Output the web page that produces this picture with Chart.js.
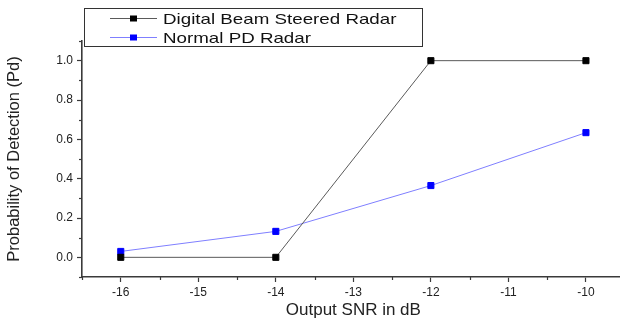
<!DOCTYPE html>
<html>
<head>
<meta charset="utf-8">
<script src="https://cdn.jsdelivr.net/npm/chart.js@4.4.0/dist/chart.umd.min.js"></script>
<style>
  html, body { margin: 0; padding: 0; background: #fff; overflow: hidden; }
  #wrap { position: relative; width: 630px; height: 323px; }
</style>
</head>
<body>
<div id="wrap"><canvas id="snrChart"></canvas></div>
<script>
// values
const snrValues = [-16, -14, -12, -10];
const beamSteered = [0.0, 0.0, 1.0, 1.0];
const normalPd = [0.03, 0.132, 0.365, 0.634];
const seriesNames = ["Digital Beam Steered Radar", "Normal PD Radar"];
const xTickLabels = ["-16", "-15", "-14", "-13", "-12", "-11", "-10"];
const yTickLabels = ["0.0", "0.2", "0.4", "0.6", "0.8", "1.0"];

const fontName = "'Liberation Sans', Arial, sans-serif";
const axisColor = "#3a3a3a";

// minor ticks + boxed legend like the origin plot
const extrasPlugin = {
    id: "extras",
    afterDraw(chart) {
        const ctx = chart.ctx;
        const xs = chart.scales.x;
        const ys = chart.scales.y;
        ctx.save();
        ctx.strokeStyle = axisColor;
        ctx.lineWidth = 1.2;
        for (let v = -16.5; v <= -9.5; v += 1) {
            const px = Math.round(xs.getPixelForValue(v)) + 0.5;
            ctx.beginPath();
            ctx.moveTo(px, xs.top);
            ctx.lineTo(px, xs.top + 3);
            ctx.stroke();
        }
        for (let v = -0.1; v <= 1.11; v += 0.2) {
            const py = Math.round(ys.getPixelForValue(v)) + 0.5;
            ctx.beginPath();
            ctx.moveTo(ys.right, py);
            ctx.lineTo(ys.right - 3, py);
            ctx.stroke();
        }

        // legend box
        ctx.fillStyle = "#fff";
        ctx.fillRect(84, 8, 338, 38);
        ctx.strokeStyle = "#333";
        ctx.lineWidth = 1;
        ctx.strokeRect(84.5, 8.5, 338, 38);
        ctx.font = "15px " + fontName;
        ctx.textBaseline = "middle";
        chart.data.datasets.forEach(function (ds, i) {
            const y = 18.5 + i * 19;
            ctx.strokeStyle = ds.borderColor;
            ctx.lineWidth = 1;
            ctx.beginPath();
            ctx.moveTo(110, y);
            ctx.lineTo(157, y);
            ctx.stroke();
            ctx.fillStyle = ds.pointBackgroundColor;
            ctx.fillRect(130, y - 3, 7, 6);
            ctx.fillStyle = "#111";
            // the original text is a bit stretched sideways
            ctx.save();
            ctx.translate(163, y + 1);
            ctx.scale(1.25, 1);
            ctx.fillText(ds.label, 0, 0);
            ctx.restore();
        });
        ctx.restore();
    }
};

const ctx = document.getElementById("snrChart").getContext("2d");
const snrChart = new Chart(ctx, {
    type: "line",
    data: {
        datasets: [{
            label: seriesNames[0],
            data: snrValues.map(function (x, i) { return { x: x, y: beamSteered[i] }; }),
            borderColor: "#5a5a5a",
            borderWidth: 1,
            pointStyle: "rect",
            pointRadius: 4.3,
            pointBorderWidth: 1,
            pointBackgroundColor: "#000",
            pointBorderColor: "#000",
            tension: 0
        }, {
            label: seriesNames[1],
            data: snrValues.map(function (x, i) { return { x: x, y: normalPd[i] }; }),
            borderColor: "#7f7fff",
            borderWidth: 1,
            pointStyle: "rect",
            pointRadius: 4.3,
            pointBorderWidth: 1,
            pointBackgroundColor: "#0000ff",
            pointBorderColor: "#0000ff",
            tension: 0
        }]
    },
    options: {
        responsive: true,
        maintainAspectRatio: false,
        animation: false,
        layout: { padding: { top: 41, left: 0, right: 0, bottom: 0 } },
        plugins: {
            legend: { display: false },
            tooltip: { enabled: false }
        },
        scales: {
            x: {
                type: "linear",
                min: -16.5,
                max: -9.5,
                afterFit: function (scale) { scale.height = 46; },
                afterBuildTicks: function (scale) {
                    scale.ticks = xTickLabels.map(function (t) { return { value: Number(t) }; });
                },
                grid: {
                    drawOnChartArea: false,
                    drawTicks: true,
                    tickLength: 5,
                    tickWidth: 1.2,
                    tickColor: axisColor
                },
                border: { display: true, color: axisColor, width: 1.6 },
                ticks: {
                    padding: 3,
                    color: "#222",
                    font: { family: fontName, size: 12 },
                    callback: function (v) { return String(v); }
                },
                title: {
                    display: true,
                    text: "Output SNR in dB",
                    color: "#222",
                    font: { family: fontName, size: 17 },
                    padding: { top: 0, bottom: 2 }
                }
            },
            y: {
                type: "linear",
                min: -0.1,
                max: 1.1,
                afterFit: function (scale) { scale.width = 82; },
                afterBuildTicks: function (scale) {
                    scale.ticks = yTickLabels.map(function (t) { return { value: Number(t) }; });
                },
                grid: {
                    drawOnChartArea: false,
                    drawTicks: true,
                    tickLength: 5,
                    tickWidth: 1.2,
                    tickColor: axisColor
                },
                border: { display: true, color: axisColor, width: 1.6 },
                ticks: {
                    padding: 4,
                    color: "#222",
                    font: { family: fontName, size: 12 },
                    callback: function (v) { return Number(v).toFixed(1); }
                },
                title: {
                    display: true,
                    text: "Probability of Detection (Pd)",
                    color: "#222",
                    font: { family: fontName, size: 16.5 },
                    padding: { top: 5, bottom: 0 }
                }
            }
        }
    },
    plugins: [extrasPlugin]
});
</script>
</body>
</html>
